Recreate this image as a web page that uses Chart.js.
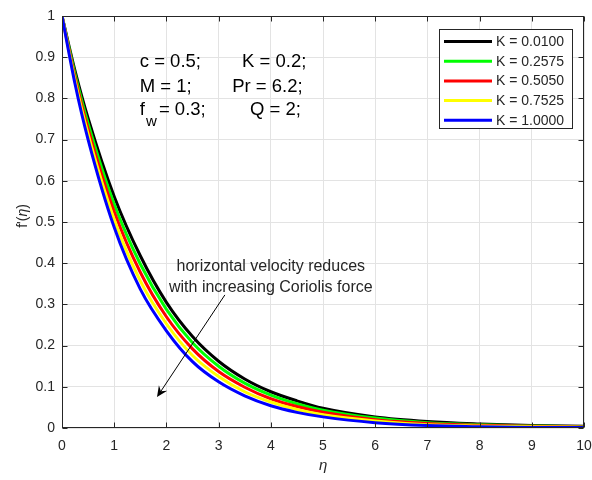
<!DOCTYPE html>
<html>
<head>
<meta charset="utf-8">
<script src="https://cdn.jsdelivr.net/npm/chart.js@4.4.0/dist/chart.umd.min.js"></script>
<style>
  html, body { margin: 0; padding: 0; background: #fff; }
  #wrap { width: 592px; height: 480px; }
</style>
</head>
<body>
<div id="wrap"><canvas id="velocityChart" width="592" height="480"></canvas></div>
<script>
// eta grid and f'(eta) profiles
const eta = [0, 0.25, 0.5, 1, 1.5, 2, 2.5, 3, 3.5, 4, 4.5, 5, 6, 7, 8, 9, 10];
const fK0100 = [1, 0.867, 0.752, 0.562, 0.418, 0.305, 0.222, 0.162, 0.119, 0.088, 0.066, 0.048, 0.027, 0.016, 0.010, 0.006, 0.004];
const fK2575 = [1, 0.859, 0.739, 0.543, 0.398, 0.288, 0.207, 0.150, 0.109, 0.080, 0.059, 0.043, 0.024, 0.013, 0.008, 0.005, 0.003];
const fK5050 = [1, 0.851, 0.726, 0.525, 0.378, 0.270, 0.192, 0.137, 0.099, 0.071, 0.052, 0.038, 0.020, 0.011, 0.0065, 0.004, 0.0025];
const fK7525 = [1, 0.843, 0.713, 0.506, 0.357, 0.253, 0.176, 0.125, 0.088, 0.063, 0.045, 0.032, 0.017, 0.008, 0.005, 0.003, 0.002];
const fK10000 = [1, 0.835, 0.700, 0.487, 0.337, 0.236, 0.161, 0.112, 0.078, 0.054, 0.038, 0.027, 0.013, 0.006, 0.003, 0.0015, 0.001];

const seriesLabels = ['K = 0.0100', 'K = 0.2575', 'K = 0.5050', 'K = 0.7525', 'K = 1.0000'];
const seriesColors = ['#000000', '#00ff00', '#ff0000', '#ffff00', '#0000ff'];
const seriesValues = [fK0100, fK2575, fK5050, fK7525, fK10000];

const xTicks = [0, 1, 2, 3, 4, 5, 6, 7, 8, 9, 10];
const yTicks = [0, 0.1, 0.2, 0.3, 0.4, 0.5, 0.6, 0.7, 0.8, 0.9, 1];

const FONT = "'Liberation Sans', Arial, Helvetica, sans-serif";
const AXIS_COLOR = '#262626';

// Caixa, ticks para dentro, legenda e anotações
const decorations = {
    id: 'decorations',
    afterDatasetsDraw(chart) {
        const { ctx, chartArea: a, scales: { x, y } } = chart;
        const L = Math.round(a.left) + 0.5, R = Math.round(a.right) - 0.5;
        const T = Math.round(a.top) + 0.5, B = Math.round(a.bottom) - 0.5;
        ctx.save();
        ctx.strokeStyle = AXIS_COLOR;
        ctx.lineWidth = 1;
        ctx.strokeRect(L, T, R - L, B - T);
        ctx.beginPath();
        xTicks.forEach(v => {
            const px = Math.round(x.getPixelForValue(v)) + 0.5;
            ctx.moveTo(px, B); ctx.lineTo(px, B - 5);
            ctx.moveTo(px, T); ctx.lineTo(px, T + 5);
        });
        yTicks.forEach(v => {
            const py = Math.round(y.getPixelForValue(v)) + 0.5;
            ctx.moveTo(L, py); ctx.lineTo(L + 5, py);
            ctx.moveTo(R, py); ctx.lineTo(R - 5, py);
        });
        ctx.stroke();
        ctx.restore();
    },
    afterDraw(chart) {
        const { ctx, chartArea: a, scales: { x, y } } = chart;
        ctx.save();

        // legenda
        const bx = 439.5, by = 29.5, bw = 133, bh = 99;
        ctx.fillStyle = '#fff';
        ctx.fillRect(bx, by, bw, bh);
        ctx.strokeStyle = AXIS_COLOR;
        ctx.lineWidth = 1;
        ctx.strokeRect(bx, by, bw, bh);
        ctx.font = '14px ' + FONT;
        ctx.textBaseline = 'middle';
        ctx.textAlign = 'left';
        seriesLabels.forEach((lab, i) => {
            const ly = 41.5 + i * 19.7;
            ctx.strokeStyle = seriesColors[i];
            ctx.lineWidth = 3;
            ctx.beginPath();
            ctx.moveTo(444, ly); ctx.lineTo(492, ly);
            ctx.stroke();
            ctx.fillStyle = AXIS_COLOR;
            ctx.fillText(lab, 496, ly + 0.5);
        });

        // parâmetros
        ctx.fillStyle = '#000';
        ctx.font = '18.5px ' + FONT;
        const px = v => x.getPixelForValue(v), py = v => y.getPixelForValue(v);
        ctx.fillText('c = 0.5;', px(1.49), py(0.888));
        ctx.fillText('K = 0.2;', px(3.45), py(0.888));
        ctx.fillText('M = 1;', px(1.49), py(0.827));
        ctx.fillText('Pr = 6.2;', px(3.26), py(0.827));
        ctx.fillText('f', px(1.49), py(0.772));
        const fw = ctx.measureText('f').width;
        ctx.font = '15px ' + FONT;
        ctx.fillText('w', px(1.49) + fw + 1, py(0.742));
        ctx.font = '18.5px ' + FONT;
        ctx.fillText('= 0.3;', px(1.49) + fw + 14, py(0.772));
        ctx.fillText('Q = 2;', px(3.60), py(0.772));

        // anotação com seta
        ctx.font = '16px ' + FONT;
        ctx.textAlign = 'center';
        ctx.fillStyle = AXIS_COLOR;
        ctx.fillText('horizontal velocity reduces', px(4.0), py(0.391));
        ctx.fillText('with increasing Coriolis force', px(4.0), py(0.342));

        const x0 = px(3.12), y0 = py(0.323), x1 = px(1.82), y1 = py(0.075);
        const ang = Math.atan2(y1 - y0, x1 - x0);
        ctx.strokeStyle = '#000';
        ctx.lineWidth = 1;
        ctx.beginPath();
        ctx.moveTo(x0, y0);
        ctx.lineTo(x1 - 6 * Math.cos(ang), y1 - 6 * Math.sin(ang));
        ctx.stroke();
        const hl = 11, hw = 5;
        const bxh = x1 - hl * Math.cos(ang), byh = y1 - hl * Math.sin(ang);
        const nx = -Math.sin(ang), ny = Math.cos(ang);
        ctx.fillStyle = '#000';
        ctx.beginPath();
        ctx.moveTo(x1, y1);
        ctx.lineTo(bxh + nx * hw, byh + ny * hw);
        ctx.lineTo(x1 - 7 * Math.cos(ang), y1 - 7 * Math.sin(ang));
        ctx.lineTo(bxh - nx * hw, byh - ny * hw);
        ctx.closePath();
        ctx.fill();

        // títulos dos eixos
        ctx.fillStyle = AXIS_COLOR;
        ctx.textAlign = 'left';
        ctx.textBaseline = 'middle';
        const xt = (a.left + a.right) / 2;
        ctx.font = 'italic 15px ' + FONT;
        ctx.fillText('η', xt - 4, 466);

        ctx.translate(23, (a.top + a.bottom) / 2 - 6);
        ctx.rotate(-Math.PI / 2);
        const p1 = "f'(", p3 = ')';
        ctx.font = 'italic 14px ' + FONT;
        const w2 = ctx.measureText('η').width;
        ctx.font = '14px ' + FONT;
        const w1 = ctx.measureText(p1).width, w3 = ctx.measureText(p3).width;
        let cx = -(w1 + w2 + w3) / 2;
        ctx.fillText(p1, cx, 0); cx += w1;
        ctx.font = 'italic 14px ' + FONT;
        ctx.fillText('η', cx, 0); cx += w2;
        ctx.font = '14px ' + FONT;
        ctx.fillText(p3, cx, 0);
        ctx.restore();
    }
};

const datasets = seriesValues.map((vals, i) => ({
    label: seriesLabels[i],
    data: eta.map((e, j) => ({ x: e, y: vals[j] })),
    borderColor: seriesColors[i],
    backgroundColor: seriesColors[i],
    borderWidth: 3,
    pointRadius: 0,
    cubicInterpolationMode: 'monotone',
    fill: false,
    order: seriesValues.length - i
}));

new Chart(document.getElementById('velocityChart').getContext('2d'), {
    type: 'line',
    data: { datasets },
    options: {
        responsive: false,
        animation: false,
        devicePixelRatio: 1,
        layout: { padding: { left: 0, top: 16, right: 8, bottom: 0 } },
        plugins: { legend: { display: false }, tooltip: { enabled: false } },
        scales: {
            x: {
                type: 'linear',
                min: 0, max: 10,
                afterFit: s => { s.height = 52; s.paddingLeft = 0; s.paddingRight = 0; },
                afterBuildTicks: s => { s.ticks = xTicks.map(v => ({ value: v })); },
                grid: { color: '#e3e3e3', drawTicks: false },
                border: { display: false },
                ticks: { color: AXIS_COLOR, padding: 10, font: { family: FONT, size: 14 }, maxRotation: 0,
                    callback: v => String(v) }
            },
            y: {
                type: 'linear',
                min: 0, max: 1,
                afterFit: s => { s.width = 62; s.paddingTop = 0; s.paddingBottom = 0; },
                afterBuildTicks: s => { s.ticks = yTicks.map(v => ({ value: v })); },
                grid: { color: '#e3e3e3', drawTicks: false },
                border: { display: false },
                ticks: { color: AXIS_COLOR, padding: 7, font: { family: FONT, size: 14 },
                    callback: v => String(+v.toFixed(1)) }
            }
        }
    },
    plugins: [decorations]
});
</script>
</body>
</html>
